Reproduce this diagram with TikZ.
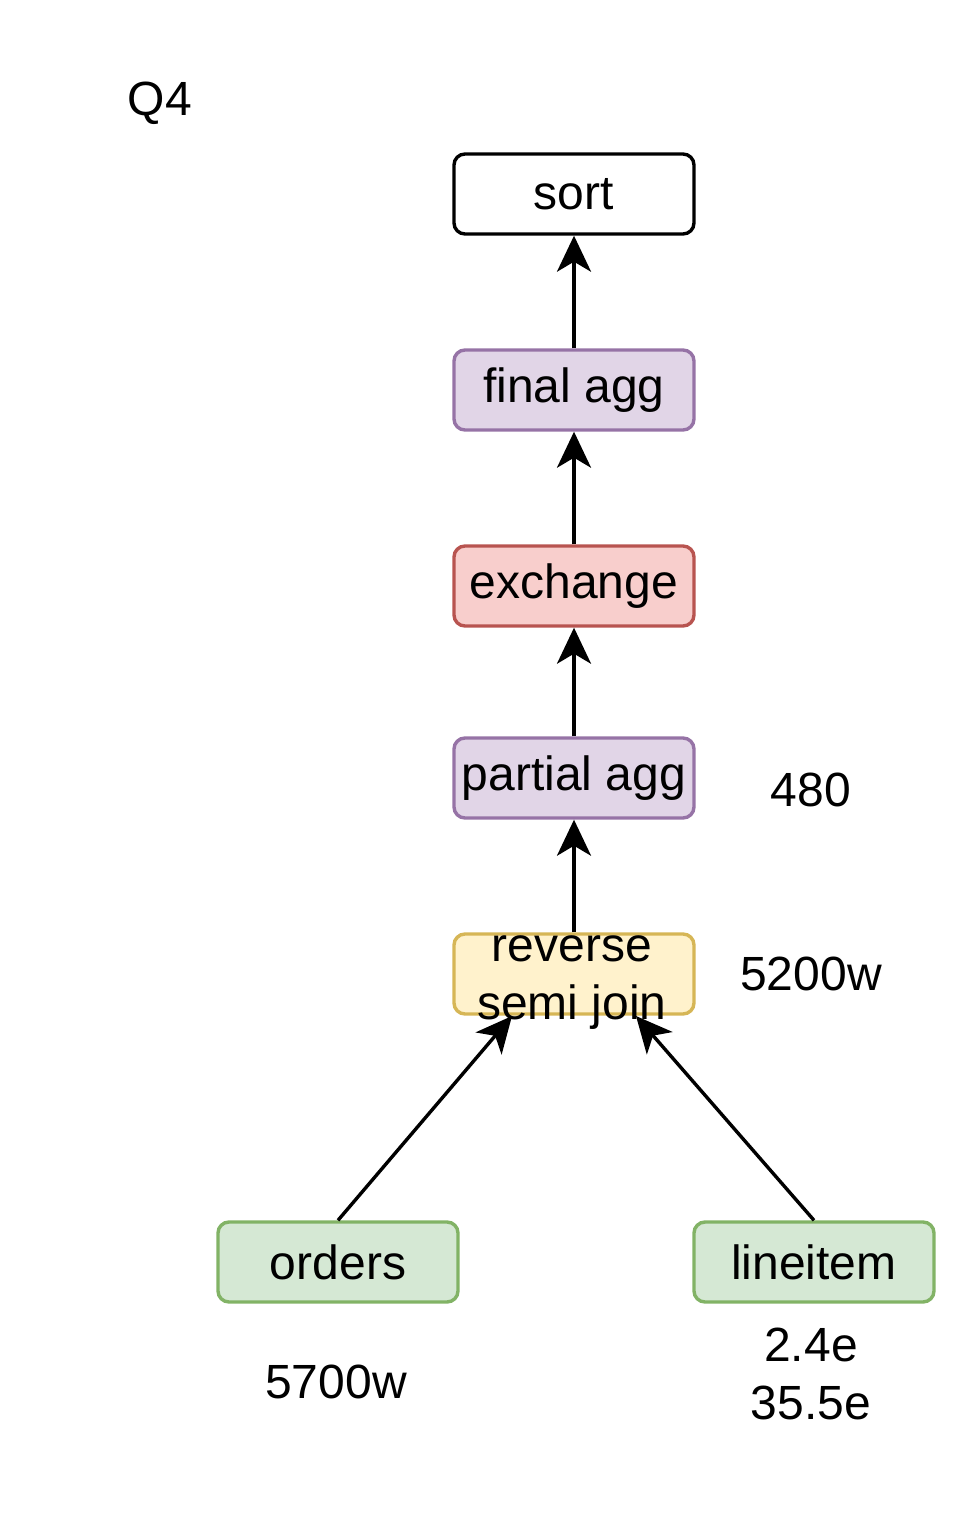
\documentclass[tikz,border=0pt]{standalone}
\usepackage{fontspec}
\setmainfont{Liberation Sans}
\usetikzlibrary{arrows.meta}
\definecolor{purF}{HTML}{E1D5E7}\definecolor{purD}{HTML}{9673A6}
\definecolor{redF}{HTML}{F8CECC}\definecolor{redD}{HTML}{B85450}
\definecolor{yelF}{HTML}{FFF2CC}\definecolor{yelD}{HTML}{D6B656}
\definecolor{grnF}{HTML}{D5E8D4}\definecolor{grnD}{HTML}{82B366}
\begin{document}
\begin{tikzpicture}[x=1pt,y=-1pt,
  every node/.style={font=\fontsize{48}{58}\selectfont, inner sep=0pt, align=center},
  box/.style={draw, line width=3.4pt, rounded corners=11pt, minimum width=240pt, minimum height=80pt},
  conn/.style={line width=3.4pt, -{Stealth[length=36pt,width=34pt,inset=10pt]}}]
\useasboundingbox (0,0) rectangle (976,1528);
\node (q4) at (160,103) {Q4};
\node[box, fill=white, draw=black] (sort) at (574,194) {sort};
\node[box, fill=purF, draw=purD] (final) at (574,390) {final agg};
\node[box, fill=redF, draw=redD] (exch) at (574,586) {exchange};
\node[box, fill=purF, draw=purD] (partial) at (574,778) {partial agg};
\node[box, fill=yelF, draw=yelD] (join) at (574,974) {};
\node (jointext) at (572,983) {reverse\\semi join};
\node[box, fill=grnF, draw=grnD] (orders) at (338,1262) {orders};
\node[box, fill=grnF, draw=grnD] (line) at (814,1262) {lineitem};
\node (l480) at (811,790) {480};
\node (l5200) at (811,974) {5200w};
\node (l5700) at (336,1382) {5700w};
\node (lli) at (811,1374) {2.4e\\35.5e};
\coordinate (jl) at (512,1016);
\coordinate (jr) at (636,1016);
\draw[conn] (final.north) -- (sort.south);
\draw[conn] (exch.north) -- (final.south);
\draw[conn] (partial.north) -- (exch.south);
\draw[conn] (join.north) -- (partial.south);
\draw[conn] (orders.north) -- (jl);
\draw[conn] (line.north) -- (jr);
\end{tikzpicture}
\end{document}
